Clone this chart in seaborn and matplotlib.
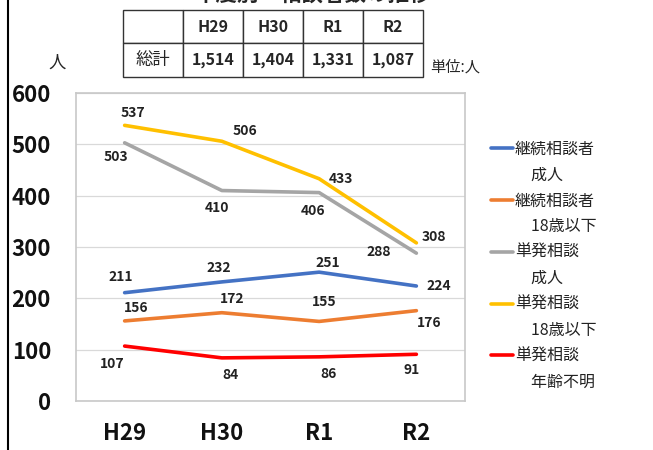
import pandas as pd
import matplotlib.pyplot as plt
import seaborn as sns
from matplotlib.lines import Line2D

years = ['H29', 'H30', 'R1', 'R2']
series = ['継続相談者 成人', '継続相談者 18歳以下', '単発相談 成人', '単発相談 18歳以下', '単発相談 年齢不明']
cont_adult = [211, 232, 251, 224]
cont_youth = [156, 172, 155, 176]
single_adult = [503, 410, 406, 288]
single_youth = [537, 506, 433, 308]
single_unknown = [107, 84, 86, 91]
totals = ['1,514', '1,404', '1,331', '1,087']
colors = ['#4472C4', '#ED7D31', '#A5A5A5', '#FFC000', '#FF0000']

values = [cont_adult, cont_youth, single_adult, single_youth, single_unknown]
rows = []
for name, vals in zip(series, values):
    for i, v in enumerate(vals):
        rows.append({'year': i, 'series': name, 'value': v})
df = pd.DataFrame(rows)

# label offsets in pixels per series/point
offsets = [
    [(-4, 16), (-3, 14), (9, 9), (22, 0)],
    [(12, 13), (10, 14), (5, 19), (13, -12)],
    [(-9, -14), (-5, -17), (-6, -18), (-38, 1)],
    [(8, 12), (23, 10), (22, 0), (18, 6)],
    [(-12, -18), (9, -17), (9, -17), (-5, -16)],
]

sns.set_theme(style='white')
plt.rcParams['font.family'] = ['Noto Sans CJK JP', 'DejaVu Sans']

fig = plt.figure(figsize=(6.53, 4.5), dpi=100)
ax = fig.add_axes([0.1164, 0.1089, 0.5957, 0.6844])
sns.lineplot(data=df, x='year', y='value', hue='series', palette=colors,
             linewidth=2.6, ax=ax, legend=False)

for vals, offs in zip(values, offsets):
    for i, (v, o) in enumerate(zip(vals, offs)):
        ax.annotate(f'{v}', (i, v), xytext=o, textcoords='offset pixels',
                    ha='center', va='center', fontsize=10, fontweight='bold',
                    color='#222222')

ax.set_xlim(-0.5, 3.5)
ax.set_ylim(0, 600)
ax.set_yticks(range(0, 601, 100))
ax.set_xticks(range(4))
ax.set_xticklabels(years)
ax.set_xlabel('')
ax.set_ylabel('')
ax.yaxis.grid(True, color='#D9D9D9', linewidth=0.9)
for s in ax.spines.values():
    s.set_color('#C8C8C8')
    s.set_linewidth(1.2)
ax.tick_params(axis='y', length=0, pad=18, labelsize=16)
ax.tick_params(axis='x', length=0, pad=15, labelsize=16)
for t in ax.get_xticklabels() + ax.get_yticklabels():
    t.set_fontweight('bold')
    t.set_color('#111111')

# legend: first line carries the line handle, second line is indented
handles, labels = [], []
for name, c in zip(series, colors):
    first, second = name.split(' ')
    handles += [Line2D([0], [0], color=c, linewidth=2.6), Line2D([0], [0], color='none')]
    labels += [first, '\u3000' + second]
leg = fig.legend(handles, labels, loc='upper left', bbox_to_anchor=(0.742, 0.702),
                 frameon=False, fontsize=11.5, handlelength=1.4, handletextpad=0.1,
                 labelspacing=0.56, borderaxespad=0)
for t in leg.get_texts():
    t.set_color('#222222')

# summary table
tax = fig.add_axes([0.1884, 0.829, 0.4594, 0.149])
tax.axis('off')
tab = tax.table(cellText=[[''] + years, ['総計'] + totals], bbox=[0, 0, 1, 1],
                cellLoc='center')
tab.auto_set_font_size(False)
for (r, c), cell in tab.get_celld().items():
    cell.set_edgecolor('#333333')
    cell.set_linewidth(1.0)
    if c > 0:
        cell.get_text().set_fontsize(11.5)
        cell.get_text().set_fontweight('bold')
    else:
        cell.get_text().set_fontsize(12.5)

fig.text(0.087, 0.86, '人', fontsize=12.5, ha='center', va='center')
fig.text(0.658, 0.85, '単位:人', fontsize=11, ha='left', va='center')
# title sits mostly above the top edge, as in the source image
fig.text(0.478, 1.012, '年度別　相談者数の推移', fontsize=15.5, fontweight='bold',
         ha='center', va='center')
fig.add_artist(Line2D([0.013, 0.013], [0, 1], color='black', linewidth=1.5))

fig.savefig('out.png', dpi=100)
